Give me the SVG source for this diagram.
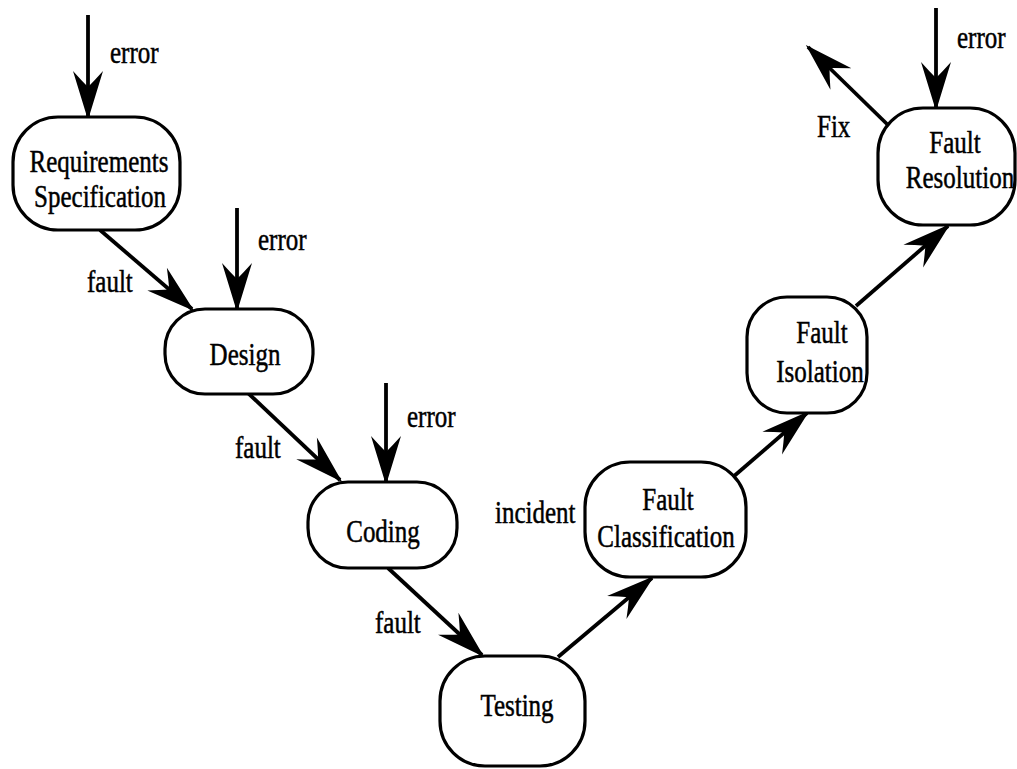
<svg xmlns="http://www.w3.org/2000/svg" width="1017" height="769" viewBox="0 0 1017 769">
  <defs>
    <!-- barbed arrowhead, tip at the origin, pointing along +x -->
    <marker id="head" markerUnits="userSpaceOnUse" markerWidth="60" markerHeight="40" viewBox="-52 -20 60 40" refX="0" refY="0" orient="auto" overflow="visible">
      <path d="M3,0 L-46,-15 Q-37,-7 -30,0 Q-37,7 -46,15 Z" fill="#000"/>
    </marker>
    <style>
      .box { fill: #fff; stroke: #000; stroke-width: 3.2; }
      .edge { fill: none; stroke: #000; stroke-width: 3.8; marker-end: url(#head); }
      text { font-family: "Liberation Serif", "Times New Roman", serif; font-size: 25px; fill: #000; stroke: #000; stroke-width: 0.4; }
      .c { text-anchor: middle; }
    </style>
  </defs>

  <!-- connectors -->
  <g id="connectors">
    <line class="edge" x1="88" y1="15" x2="88" y2="117"/>
    <line class="edge" x1="100" y1="230" x2="192" y2="309"/>
    <line class="edge" x1="237" y1="208" x2="237" y2="309"/>
    <line class="edge" x1="248" y1="393" x2="340" y2="480"/>
    <line class="edge" x1="386" y1="383" x2="386" y2="482"/>
    <line class="edge" x1="388" y1="568" x2="482" y2="655"/>
    <line class="edge" x1="558" y1="657" x2="652" y2="578"/>
    <line class="edge" x1="733" y1="477" x2="807" y2="413"/>
    <line class="edge" x1="856" y1="306" x2="948" y2="226"/>
    <line class="edge" x1="936" y1="8" x2="936" y2="108"/>
    <line class="edge" x1="888" y1="125" x2="808" y2="47"/>

    <text transform="translate(110 63) scale(1 1.25)">error</text>
    <text transform="translate(87 292) scale(1 1.25)">fault</text>
    <text transform="translate(258 250) scale(1 1.25)">error</text>
    <text transform="translate(235 458) scale(1 1.25)">fault</text>
    <text transform="translate(407 427) scale(1 1.25)">error</text>
    <text transform="translate(375 633) scale(1 1.25)">fault</text>
    <text transform="translate(495 523) scale(1 1.25)">incident</text>
    <text transform="translate(817 137) scale(1 1.25)">Fix</text>
    <text transform="translate(957 48) scale(1 1.25)">error</text>
  </g>

  <g id="requirements">
    <rect class="box" x="13" y="117" width="167" height="113" rx="45" ry="45"/>
    <text class="c" transform="translate(99 172) scale(1 1.25)">Requirements</text>
    <text class="c" transform="translate(100 207) scale(1 1.25)">Specification</text>
  </g>

  <g id="design">
    <rect class="box" x="165" y="309" width="148" height="85" rx="40" ry="40"/>
    <text class="c" transform="translate(245 365) scale(1 1.25)">Design</text>
  </g>

  <g id="coding">
    <rect class="box" x="308" y="482" width="149" height="86" rx="40" ry="40"/>
    <text class="c" transform="translate(383 542) scale(1 1.25)">Coding</text>
  </g>

  <g id="testing">
    <rect class="box" x="440" y="656" width="145" height="110" rx="45" ry="45"/>
    <text class="c" transform="translate(517 716) scale(1 1.25)">Testing</text>
  </g>

  <g id="fault-classification">
    <rect class="box" x="585" y="462" width="161" height="115" rx="45" ry="45"/>
    <text class="c" transform="translate(668 510) scale(1 1.25)">Fault</text>
    <text class="c" transform="translate(666 547) scale(1 1.25)">Classification</text>
  </g>

  <g id="fault-isolation">
    <rect class="box" x="747" y="297" width="120" height="116" rx="40" ry="40"/>
    <text class="c" transform="translate(822 343) scale(1 1.25)">Fault</text>
    <text class="c" transform="translate(820 382) scale(1 1.25)">Isolation</text>
  </g>

  <g id="fault-resolution">
    <rect class="box" x="878" y="108" width="137" height="117" rx="45" ry="45"/>
    <text class="c" transform="translate(955 153) scale(1 1.25)">Fault</text>
    <text class="c" transform="translate(960 188) scale(1 1.25)">Resolution</text>
  </g>
</svg>
